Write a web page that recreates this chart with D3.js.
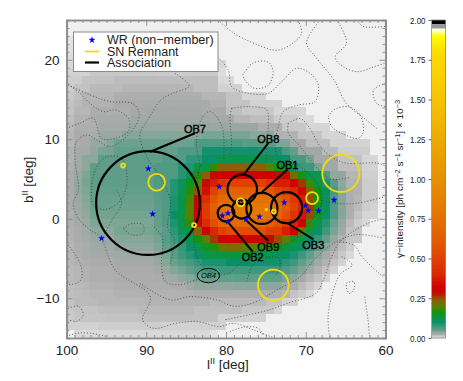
<!DOCTYPE html>
<html>
<head>
<meta charset="utf-8">
<script src="https://cdn.jsdelivr.net/npm/d3@7"></script>
<style>
body { margin: 0; background: #fff; }
text { font-family: "Liberation Sans", Arial, sans-serif; fill: #222; }
</style>
</head>
<body>
<svg id="chart" width="463" height="381"></svg>
<script>
// gamma intensity, units of 1e-6 ph cm-2 s-1 sr-1, rows from b=25 down, columns from l=100 down
var intensity = [
[0,0,0,0,0,0,0,0,0,0,0,0,0,0,0,0,0,0,0,0,0,0,0,0,0,0,0,0,0,0,0,0,0,0,0,0,0,0,0,0],
[0,0,0,0,0,0,0,0,0,0,0,0,0,0,0,0,0,0,0,0,0,0,0,0,0,0,0,0,0,0,0,0,0,0,0,0,0,0,0,0],
[3,3,3,3,3,3,3,3,3,3,3,3,3,3,3,3,3,3,3,0,0,0,0,0,0,0,0,0,0,0,0,0,0,0,0,0,0,0,0,0],
[4,4,4,4,4,4,4,4,4,4,4,4,4,4,4,4,4,4,4,0,0,0,0,0,0,0,0,0,0,0,0,0,0,0,0,0,0,0,0,0],
[5,5,5,5,5,5,5,5,5,5,5,5,5,5,5,5,5,5,5,0,0,0,0,0,0,0,0,0,0,0,0,0,0,0,0,0,0,0,0,0],
[6,6,6,6,6,6,6,6,6,6,6,6,6,6,6,6,6,6,6,6,0,0,0,0,0,0,0,0,0,0,0,0,0,0,0,0,0,0,0,0],
[8,8,8,12,12,12,12,12,12,12,12,11,11,11,11,11,11,11,11,5,0,0,0,0,0,0,0,0,0,0,0,0,0,0,0,0,0,0,0,0],
[10,10,14,14,14,14,17,17,17,17,17,17,17,17,16,16,16,16,16,6,6,0,0,0,0,0,0,0,0,0,0,0,0,0,0,0,0,0,0,0],
[10,14,14,18,18,18,18,20,20,20,20,20,20,20,20,20,16,16,16,8,8,8,0,0,0,0,0,0,0,0,0,0,0,0,0,0,0,0,0,0],
[12,15,20,20,20,20,24,24,24,24,24,24,24,24,24,24,24,20,20,20,14,14,7,7,7,0,0,0,0,0,0,0,0,0,0,0,0,0,0,0],
[14,18,22,22,22,22,26,26,26,26,26,26,26,27,27,27,27,27,22,22,14,14,14,8,8,8,8,0,0,0,0,0,0,0,0,0,0,0,0,0],
[14,20,20,24,24,24,24,24,28,28,28,28,28,28,28,28,28,26,26,26,16,16,12,12,12,12,7,7,7,7,0,0,0,0,0,0,0,0,0,0],
[16,22,22,26,26,26,26,26,30,30,30,30,30,30,30,30,30,30,28,28,28,20,20,16,16,16,10,10,10,6,6,0,0,0,0,0,0,0,0,0],
[18,24,24,24,28,28,28,28,33,33,33,33,33,33,33,33,33,33,32,32,32,32,32,32,24,24,24,12,12,12,7,7,7,0,0,0,0,0,0,0],
[20,26,26,26,32,32,32,38,38,38,38,38,38,38,38,38,38,42,42,42,42,42,42,36,36,36,22,22,22,13,13,13,7,7,7,0,0,0,0,0],
[20,26,26,32,32,38,46,46,46,46,46,46,46,46,46,46,60,60,60,60,60,60,55,55,55,55,40,40,28,28,16,16,16,8,8,8,8,8,0,0],
[22,28,28,34,42,42,50,50,50,50,50,50,50,50,60,60,60,95,95,95,95,95,95,95,90,90,90,65,50,30,30,30,18,18,10,10,10,10,0,0],
[22,28,36,36,52,52,52,52,52,52,52,52,58,58,58,80,80,100,100,125,125,125,125,125,125,125,100,100,65,65,45,28,28,28,14,14,14,7,7,0],
[24,30,36,52,52,52,52,52,52,52,52,60,60,60,85,85,130,130,180,240,240,240,240,240,240,200,160,160,110,70,70,42,30,30,16,16,16,8,8,0],
[26,32,40,52,52,52,52,52,52,52,52,60,60,60,85,120,165,240,300,320,320,320,320,320,320,320,300,300,230,160,120,120,60,34,34,20,20,9,9,0],
[26,34,42,52,52,52,52,52,52,52,52,60,60,85,110,150,200,300,380,440,500,500,500,500,500,450,380,380,320,260,180,130,90,55,35,22,22,10,10,0],
[26,34,40,50,50,50,50,50,50,50,50,56,60,85,120,170,240,350,500,600,650,650,650,650,650,600,520,460,400,330,240,160,110,65,38,24,22,10,10,0],
[26,32,38,48,48,48,48,48,48,48,48,54,60,90,125,190,300,420,580,700,720,720,720,750,750,750,650,560,470,380,250,160,110,60,38,24,20,10,10,0],
[26,30,36,46,46,46,46,46,46,46,46,52,60,90,125,200,320,480,640,760,800,800,800,800,800,800,720,600,500,400,260,160,110,60,38,24,18,10,8,0],
[24,30,34,44,44,44,44,44,44,44,44,52,60,100,130,200,330,480,620,740,800,800,800,800,800,760,680,560,460,360,250,150,105,60,38,24,14,7,7,0],
[24,28,32,40,40,40,40,40,40,40,40,50,60,90,125,180,300,420,560,680,700,700,700,700,700,650,570,470,390,320,180,130,85,48,32,18,10,6,0,0],
[22,26,30,36,36,36,42,42,42,42,42,48,55,80,115,130,240,320,400,500,550,550,550,550,550,480,480,380,320,200,130,100,70,42,28,14,14,0,0,0],
[22,25,28,32,32,32,38,38,38,38,38,44,55,70,90,120,160,200,260,300,320,320,320,320,300,300,250,200,150,125,100,75,50,34,22,12,12,0,0,0],
[20,24,26,30,30,30,34,34,34,34,34,40,50,60,75,100,125,150,170,210,230,230,200,200,170,170,155,135,120,100,75,55,38,26,16,10,0,0,0,0],
[20,24,26,28,28,28,30,30,30,30,30,34,42,55,70,85,100,120,130,130,130,130,130,120,120,120,110,100,90,70,50,38,28,20,12,6,0,0,0,0],
[20,22,24,26,26,26,28,28,28,28,28,32,38,48,55,65,75,90,90,90,100,100,100,95,95,95,95,80,70,50,40,30,22,14,8,0,0,0,0,0],
[18,20,22,24,24,24,26,26,26,26,26,28,32,38,44,50,60,70,70,70,70,70,70,70,70,70,70,60,50,40,30,22,14,8,0,0,0,0,0,0],
[18,20,22,24,24,24,25,25,25,25,25,26,28,30,34,38,44,50,50,50,50,52,52,52,52,52,52,44,36,28,20,14,8,0,0,0,0,0,0,0],
[16,18,20,22,22,22,24,24,24,24,24,24,24,25,26,30,34,34,34,34,34,36,36,36,36,36,36,30,26,18,12,7,0,0,0,0,0,0,0,0],
[15,17,18,20,20,20,22,22,22,22,22,22,22,22,22,22,24,24,24,24,24,24,24,24,24,24,24,20,14,10,6,0,0,0,0,0,0,0,0,0],
[14,18,18,18,20,20,20,20,20,20,21,21,21,21,21,21,21,21,18,18,18,18,18,18,18,14,14,8,8,0,0,0,0,0,0,0,0,0,0,0],
[12,14,14,14,16,16,16,16,16,18,18,18,18,18,18,18,15,15,15,15,15,15,12,12,12,12,7,0,0,0,0,0,0,0,0,0,0,0,0,0],
[11,13,13,13,13,14,14,14,14,15,15,15,15,15,15,15,15,15,15,8,8,8,8,8,8,0,0,0,0,0,0,0,0,0,0,0,0,0,0,0],
[8,8,8,8,10,10,10,10,10,10,10,10,8,8,8,8,8,8,8,8,0,0,0,0,0,0,0,0,0,0,0,0,0,0,0,0,0,0,0,0],
[0,6,6,6,6,6,6,6,6,6,6,6,6,6,6,6,6,6,3,0,0,0,0,0,0,0,0,0,0,0,0,0,0,0,0,0,0,0,0,0]
];

// colour bar stops
var barStops = [0,0.003,0.008,0.015,0.025,0.03,0.04,0.05,0.06,0.08,0.1,0.13,0.16,0.2,0.24,0.28,0.32,0.4,0.5,0.6,0.7,0.8,1.0,1.25,1.5,1.8,1.9,1.93,1.945,1.955,1.975,1.98,2.0];
var barColors = ["#f0f0f0","#e4e4e4","#d2d2d2","#c0c0c0","#acacac","#a0a9a5","#7ea696","#629e8a","#4f9a82","#2e9578","#0a9068","#0a9445","#0f9510","#5a8000","#8a6000","#c01000","#d00000","#d82800","#e04000","#e05a00","#e26800","#e47800","#e69000","#ecaa00","#f5c400","#ffdc00","#ffff00","#ffffb0","#ffffff","#999999","#999999","#000000","#000000"];

var wrL = [89.74,89.2,95.6,80.84,80.46,79.75,77.5,75.8,72.7,70.05,69.7,68.4,66.45,79.75];
var wrB = [6.3,0.6,-2.46,4.04,0.38,0.69,-0.07,0.26,2.02,1.65,1.02,0.98,2.36,-0.37];

var snL = [65.6,74.07,88.7,69.2,78.15,92.9,84,74];
var snB = [5.7,-8.33,4.6,2.6,2.07,6.7,-0.8,0.9];
var snR = [2.33,1.92,1.05,0.75,0.5,0.25,0.25,0.25];

var assocNames = ["OB7","OB8","OB1","OB3","OB9","OB2"];
var assocL = [89.78,77.96,75.5,72.4,78.03,80];
var assocB = [1.98,3.7,1.3,1.4,1.23,0.7];
var assocR = [6.5,1.85,1.95,1.95,1.2,1.05];
// leader line from circle to label
var leadL0 = [89.5,77.83,75.5,72.4,77.6,79.8];
var leadB0 = [8.43,5.5,3.33,-0.5,-0.07,-0.37];
var leadL1 = [83.9,74.7,72.3,69.05,74.7,76.65];
var leadB1 = [10.75,9.5,6.2,-2.6,-2.8,-4.15];

var barTicks = [0,0.25,0.5,0.75,1,1.25,1.5,1.75,2];

// traced dotted contours, [l,b]
var contours = [
[[81,25],[79.1,23.4],[76.1,21.9],[73.6,21.2],[71.6,22.1],[70.5,23.4],[71,25]],
[[77.9,18.1],[76.6,19.6],[74.7,19.7],[74.1,18.5],[74.7,16.8],[76.4,16.4],[77.6,17.4],[77.9,18.1]],
[[81,20.3],[79.71,18.71],[79.29,16.62],[77.2,15.78],[74.7,15.78],[73.02,17.25],[71.14,18.92],[69.47,18.29],[68.43,16.83],[68.84,14.73],[70.93,14.31],[72.81,13.48],[73.44,11.59],[73.86,9.5],[73.6,7.8]],
[[100,11.38],[98.31,12.01],[96.64,12.64],[95.6,10.12],[93.92,10.12],[92.25,10.96],[92.25,12.64],[93.92,13.69],[95.39,13.48],[97.06,14.52],[98.31,15.78],[100,17.04]],
[[99.77,16.84],[97.05,15.58],[94.55,14.74],[91.62,14.45],[90.87,13.06],[92.04,10.76],[94.55,9.08],[96.22,9.92],[97.47,10.55],[98.73,9.71],[98.93,7.41],[98.52,3.64],[99.14,1.94],[98.52,0.06],[97.05,-1.41],[95.8,-2.25],[93.9,-6.44],[89.5,-9.79],[90.45,-12.72],[89.1,-13.77],[86.2,-13.14],[83.7,-12.93],[80.75,-13.56],[79.1,-13.14],[76.5,-14],[74,-15]],
[[93.7,3.62],[93.1,1.94],[94.3,-0.15],[95.6,-2.66]],
[[90.8,-8.11],[87,-10.2],[84.5,-9.8],[81.2,-10.2],[79,-11],[76.6,-10.6],[73.6,-8.95],[70.7,-7.3],[69,-5.2],[66.5,-3.1],[63.6,-2],[60.5,-2.4]],
[[79.29,13.9],[77.2,14.1],[74.9,13.7],[74.7,11.6],[74.9,9.1],[75,7]],
[[79.29,13.9],[79.5,12.8],[79.3,9.5],[79.5,8]],
[[72.2,12],[70.7,12.6],[69.5,11.4],[68.2,9.1],[66.5,7.6],[64.9,7],[61,7],[60,6.6]],
[[72.2,12],[72.2,10.8],[70.7,9.1],[68.8,6.6],[66.8,5],[64.5,5.2]],
[[67.17,12.85],[66.5,13.69],[64.66,14.1],[63.2,13.06],[62.78,10.96],[63.41,10.12],[65.08,10.54],[66.75,11.59],[67.17,12.85]],
[[68.2,25],[69.9,22.1],[68.8,20.4],[66.5,17.5],[64.9,14.5],[62.5,12.5],[60.9,11.2]],
[[66.1,25],[64.9,22.1],[66.3,20.4],[65.7,19.4],[63.6,18.5],[61.5,19.1],[60,19.6]],
[[63.6,25],[62.8,24.2],[60,24.2]],
[[60,17],[61.5,16.2],[61.1,14.5],[60,14.1]],
[[68.2,2.4],[66.5,1.95],[63.6,1.95],[60,2.8]],
[[60.9,-0.15],[62.2,-0.57],[63.8,-1.41],[65.7,-2.9],[66.75,-4.76],[67.8,-7.7],[68.8,-9.4],[72.2,-10.6],[74.7,-11.5],[80.1,-12.7]],
[[65.7,-2.9],[64,-3.3],[62.8,-4.97],[60.3,-7.3]],
[[65.5,-4.76],[64.2,-5.8],[65.7,-7],[66.75,-9.8],[67.2,-12.3],[67,-15]],
[[64.9,-8.1],[64,-7.9],[63.9,-8.7],[64.5,-9.4],[64.9,-8.7],[64.9,-8.1]],
[[62.6,-9.8],[62.2,-12.7],[62,-14.8]],
[[79.5,-14.2],[77.6,-13.6],[75.9,-13.8],[75.3,-14.8]],
[[77.4,-7.9],[76.6,-5.8],[74.7,-4.8],[73.4,-5],[73.2,-6],[73.9,-7.3]],
[[92.9,-1.2],[91.6,-0.57],[90.4,-0.8],[90.4,-1.85],[91.8,-2.04],[92.9,-1.2]],
[[99.8,-11.3],[98.5,-11],[97.9,-12.1],[98.7,-12.9],[99.8,-12.7]],
[[99.8,-3.3],[98.3,-5.6],[98.1,-7.5],[98.7,-8.1],[100,-8.3]],
[[100,-14.8],[98.7,-14.4],[97,-14.4],[95,-14.8]],
[[89.3,-0.8],[88.3,-1.8],[87.9,-2.7],[88.1,-5.6],[87.6,-7.9],[85.8,-8.3],[83.3,-7.5]],
[[83.2,6.6],[83.7,9.5],[83.05,12.6],[82,13.5],[80.5,11.6],[80.3,7.4]],
[[86.4,18.3],[84.6,16.7],[86.6,15.8],[88.1,15],[89.7,12.6],[90.8,10.5],[89.7,7.4],[88.3,5.3],[87,2.4],[87.3,-1.2],[86.5,-2.5],[87,-5.7]],
[[96.2,6.6],[94.96,7.8],[93.1,7.6],[92.4,5],[93.1,2.5],[95,1.2],[96.6,1.7],[96.8,4.5],[96.2,6.6]],
[[83.3,6.6],[84,2],[84,-3],[83,-6],[80,-7],[77,-4.5],[72,-3],[70,-1],[68,2],[69,5],[72,7.5]]
];

var svg = d3.select("#chart");

var x = d3.scaleLinear().domain([100,60]).range([66.5,385.5]);
var y = d3.scaleLinear().domain([25,-15]).range([20,338]);
var barY = d3.scaleLinear().domain([0,2]).range([338,20]);
var colorScale = d3.scaleLinear().domain(barStops).range(barColors);

// heat map cells
svg.append("g").attr("shape-rendering", "crispEdges").selectAll("g")
    .data(intensity)
    .enter().append("g")
    .each(function(row, r) {
        d3.select(this).selectAll("rect")
            .data(row)
            .enter().append("rect")
            .attr("x", function(d, c) { return x(100 - c); })
            .attr("y", y(25 - r))
            .attr("width", x(99) - x(100) + 0.6)
            .attr("height", y(24) - y(25) + 0.6)
            .attr("fill", function(d) { return colorScale(d / 1000); });
    });

var contourLine = d3.line()
    .x(function(d) { return x(d[0]); })
    .y(function(d) { return y(d[1]); })
    .curve(d3.curveCatmullRom.alpha(0.5));

svg.append("g").selectAll("path")
    .data(contours)
    .enter().append("path")
    .attr("d", contourLine)
    .attr("fill", "none")
    .attr("stroke", "#3a3a3a")
    .attr("stroke-width", 0.8)
    .attr("stroke-dasharray", "1,2");

// axes, frame drawn last in grey
var majorX = [100,90,80,70,60], majorY = [-10,0,10,20];
var minorX = d3.range(60,101).filter(function(d) { return d % 10 != 0; });
var minorY = d3.range(-15,26).filter(function(d) { return d % 10 != 0; });

function styleAxis(g) {
    g.selectAll("path").attr("stroke", "#8a8a8a").attr("stroke-width", 1.5);
    g.selectAll("line").attr("stroke", "#8a8a8a").attr("stroke-width", 0.9);
    g.selectAll("text").attr("font-size", 13.5).attr("font-family", "Liberation Sans").attr("fill", "#222");
}
function drawAxis(axisFn, scale, major, minor, transform, showLabels) {
    svg.append("g").attr("transform", transform)
        .call(axisFn(scale).tickValues(minor).tickSize(-3).tickFormat(""))
        .call(styleAxis);
    svg.append("g").attr("transform", transform)
        .call(axisFn(scale).tickValues(major).tickSize(-6).tickPadding(7).tickSizeOuter(0)
            .tickFormat(showLabels ? function(d) { return String(d).replace("-", "\u2212"); } : ""))
        .call(styleAxis);
}
drawAxis(d3.axisBottom, x, majorX, minorX, "translate(0,338)", true);
drawAxis(d3.axisTop, x, majorX, minorX, "translate(0,20)", false);
drawAxis(d3.axisLeft, y, majorY, minorY, "translate(66.5,0)", true);
drawAxis(d3.axisRight, y, majorY, minorY, "translate(385.5,0)", false);

var xTitle = svg.append("text").attr("x", 207).attr("y", 369).attr("font-size", 13.5);
xTitle.append("tspan").text("l");
xTitle.append("tspan").attr("dy", -5).attr("font-size", 9).text("II");
xTitle.append("tspan").attr("dy", 5).text(" [deg]");

var yTitle = svg.append("text").attr("transform", "translate(33,203) rotate(-90)").attr("font-size", 13.5);
yTitle.append("tspan").text("b");
yTitle.append("tspan").attr("dy", -5).attr("font-size", 9).text("II");
yTitle.append("tspan").attr("dy", 5).text(" [deg]");

// associations
svg.append("g").selectAll("circle")
    .data(assocNames)
    .enter().append("circle")
    .attr("cx", function(d, i) { return x(assocL[i]); })
    .attr("cy", function(d, i) { return y(assocB[i]); })
    .attr("r", function(d, i) { return x(100 - assocR[i]) - x(100); })
    .attr("fill", "none").attr("stroke", "#000").attr("stroke-width", 2.2);

svg.append("g").selectAll("line")
    .data(assocNames)
    .enter().append("line")
    .attr("x1", function(d, i) { return x(leadL0[i]); })
    .attr("y1", function(d, i) { return y(leadB0[i]); })
    .attr("x2", function(d, i) { return x(leadL1[i]); })
    .attr("y2", function(d, i) { return y(leadB1[i]); })
    .attr("stroke", "#000").attr("stroke-width", 2);

var labelAbove = [true,true,true,false,false,false];
svg.append("g").selectAll("text")
    .data(assocNames)
    .enter().append("text")
    .attr("x", function(d, i) { return x(leadL1[i]); })
    .attr("y", function(d, i) { return y(leadB1[i]) + (labelAbove[i] ? -0.5 : 9.5); })
    .attr("text-anchor", "middle")
    .attr("font-size", 11)
    .attr("stroke", "#000").attr("stroke-width", 0.4)
    .style("fill", "#000")
    .text(function(d) { return d; });

// OB4 is drawn as an ellipse
svg.append("ellipse")
    .attr("cx", x(82.2)).attr("cy", y(-7.15))
    .attr("rx", x(100 - 1.4) - x(100)).attr("ry", y(-0.9) - y(0))
    .attr("fill", "none").attr("stroke", "#000").attr("stroke-width", 1);
svg.append("text")
    .attr("x", x(82.2)).attr("y", y(-7.15) + 2.6)
    .attr("text-anchor", "middle").attr("font-size", 7.5).attr("font-style", "italic")
    .style("fill", "#000")
    .text("OB4");

// SN remnants
svg.append("g").selectAll("circle")
    .data(snL)
    .enter().append("circle")
    .attr("cx", function(d) { return x(d); })
    .attr("cy", function(d, i) { return y(snB[i]); })
    .attr("r", function(d, i) { return x(100 - snR[i]) - x(100); })
    .attr("fill", "none").attr("stroke", "#f2dc10").attr("stroke-width", 1.8);
svg.append("circle").attr("cx", x(74.95)).attr("cy", y(1.15)).attr("r", 1.6).attr("fill", "#f2dc10");
svg.append("circle").attr("cx", x(78.15)).attr("cy", y(2.07)).attr("r", 1.6)
    .attr("fill", "none").attr("stroke", "#000").attr("stroke-width", 1);

// WR stars
var star = d3.symbol().type(d3.symbolStar).size(15);
svg.append("g").selectAll("path")
    .data(wrL)
    .enter().append("path")
    .attr("d", star)
    .attr("transform", function(d, i) { return "translate(" + x(d) + "," + y(wrB[i]) + ")"; })
    .attr("fill", "#0000f0");

// legend
svg.append("rect").attr("x", 73.5).attr("y", 32).attr("width", 144.5).attr("height", 39.5)
    .attr("fill", "#fff").attr("stroke", "#8a8a8a").attr("stroke-width", 1);
svg.append("path").attr("d", star).attr("transform", "translate(92,40)").attr("fill", "#0000f0");
svg.append("line").attr("x1", 85).attr("x2", 99).attr("y1", 51.5).attr("y2", 51.5).attr("stroke", "#f2dc10").attr("stroke-width", 1.8);
svg.append("line").attr("x1", 85).attr("x2", 99).attr("y1", 62.5).attr("y2", 62.5).attr("stroke", "#000").attr("stroke-width", 2.2);
var legendNames = ["WR (non\u2212member)", "SN Remnant", "Association"];
var legendY = [44, 55.5, 66.5];
svg.append("g").selectAll("text")
    .data(legendNames)
    .enter().append("text")
    .attr("x", 107)
    .attr("y", function(d, i) { return legendY[i]; })
    .attr("font-size", 12.5)
    .text(function(d) { return d; });

// colour bar
var barLevels = d3.range(0, 2, 0.005);
svg.append("g").attr("shape-rendering", "crispEdges").selectAll("rect")
    .data(barLevels)
    .enter().append("rect")
    .attr("x", 431.5)
    .attr("width", 14)
    .attr("y", function(d) { return barY(d + 0.005); })
    .attr("height", barY(0) - barY(0.005) + 0.6)
    .attr("fill", function(d) { return colorScale(d); });
svg.append("rect").attr("x", 431.5).attr("y", 20).attr("width", 14).attr("height", 318)
    .attr("fill", "none").attr("stroke", "#8a8a8a").attr("stroke-width", 0.8);

var barAxis = svg.append("g").attr("transform", "translate(431.5,0)")
    .call(d3.axisLeft(barY).tickValues(barTicks).tickSize(3).tickPadding(3)
        .tickFormat(d3.format(".2f")));
barAxis.select("path").remove();
barAxis.selectAll("line").attr("stroke", "#666");
barAxis.selectAll("text")
    .attr("font-size", 9.6).attr("font-family", "Liberation Sans").attr("fill", "#222")
    .attr("textLength", 15.5).attr("lengthAdjust", "spacingAndGlyphs");

var barTitle = svg.append("text").attr("transform", "translate(403,258) rotate(-90)").attr("font-size", 9.5)
    .attr("textLength", 158).attr("lengthAdjust", "spacingAndGlyphs");
barTitle.append("tspan").text("\u03b3\u2212intensity [ph cm");
barTitle.append("tspan").attr("dy", -3).attr("font-size", 7).text("\u22122");
barTitle.append("tspan").attr("dy", 3).text(" s");
barTitle.append("tspan").attr("dy", -3).attr("font-size", 7).text("\u22121");
barTitle.append("tspan").attr("dy", 3).text(" sr");
barTitle.append("tspan").attr("dy", -3).attr("font-size", 7).text("\u22121");
barTitle.append("tspan").attr("dy", 3).text("]  \u00d7 10");
barTitle.append("tspan").attr("dy", -3).attr("font-size", 7).text("\u22123");
</script>
</body>
</html>
